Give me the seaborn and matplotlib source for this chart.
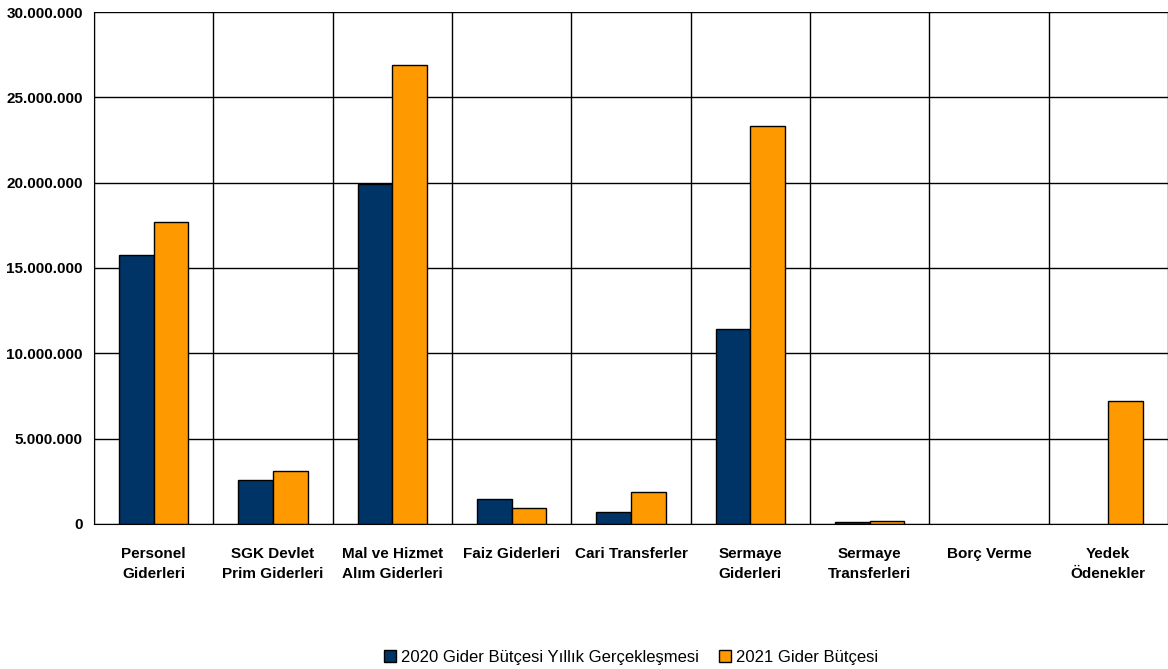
import numpy as np
import pandas as pd
import matplotlib
matplotlib.use("Agg")
import matplotlib.pyplot as plt
import seaborn as sns
from matplotlib.ticker import FuncFormatter, FixedLocator

# data
kalemler = ["Personel\nGiderleri", "SGK Devlet\nPrim Giderleri", "Mal ve Hizmet\nAlım Giderleri",
            "Faiz Giderleri", "Cari Transferler", "Sermaye\nGiderleri",
            "Sermaye\nTransferleri", "Borç Verme", "Yedek\nÖdenekler"]
seri_2020 = [15780000, 2580000, 19900000, 1450000, 700000, 11420000, 100000, 0, 0]
seri_2021 = [17700000, 3100000, 26900000, 950000, 1850000, 23300000, 180000, 0, 7200000]
seri_adlari = ["2020 Gider Bütçesi Yıllık Gerçekleşmesi", "2021 Gider Bütçesi"]
renkler = ["#003366", "#FF9900"]

sns.set_style("white")
plt.rcParams['font.family'] = ['Liberation Sans', 'DejaVu Sans']
plt.rcParams['text.color'] = 'black'
plt.rcParams['xtick.color'] = 'black'
plt.rcParams['ytick.color'] = 'black'

df = pd.DataFrame({
    "kalem": kalemler * 2,
    "tutar": seri_2020 + seri_2021,
    "seri": [seri_adlari[0]] * len(kalemler) + [seri_adlari[1]] * len(kalemler),
})

fig = plt.figure(figsize=(11.68, 6.69), dpi=100)
ax = fig.add_axes([0.0805, 0.217, 0.9195, 0.765])

sns.barplot(data=df, x="kalem", y="tutar", hue="seri", palette=renkler, saturation=1,
            edgecolor="black", linewidth=1.0, width=0.58, ax=ax, legend=False)

# no outline for empty bars
for p in ax.patches:
    if p.get_height() == 0:
        p.set_linewidth(0)

ax.set_xlim(-0.5, len(kalemler) - 0.5)
ax.set_ylim(0, 30000000)
ax.set_yticks(np.arange(0, 30000001, 5000000))
ax.yaxis.set_major_formatter(FuncFormatter(lambda v, p: f"{int(v):,}".replace(",", ".")))
ax.set_xlabel("")
ax.set_ylabel("")

# vertical separators between categories
ax.xaxis.set_minor_locator(FixedLocator(np.arange(-0.5, len(kalemler), 1.0)))
ax.grid(True, axis="y", which="major", color="black", linewidth=1.0)
ax.grid(True, axis="x", which="minor", color="black", linewidth=1.0)
ax.set_axisbelow(True)
ax.tick_params(axis="x", which="major", length=0, pad=17)
ax.tick_params(axis="x", which="minor", length=6, width=1.0, color="black", direction="out")
ax.tick_params(axis="y", length=5, width=1.0, color="black", direction="out", pad=3)

for lab in ax.get_xticklabels():
    lab.set_fontweight("bold")
    lab.set_fontsize(11)
    lab.set_linespacing(1.55)
    lab.set_verticalalignment("top")
for lab in ax.get_yticklabels():
    lab.set_fontweight("bold")
    lab.set_fontsize(11)

for s in ["top", "right"]:
    ax.spines[s].set_visible(False)
ax.spines["left"].set_color("black")
ax.spines["bottom"].set_color("black")

handles = [plt.Rectangle((0, 0), 1, 1, facecolor=c, edgecolor="black", linewidth=1.0) for c in renkler]
ax.legend(handles, seri_adlari, loc="lower center", bbox_to_anchor=(0.5, -0.305), ncol=2,
          frameon=False, prop={"size": 12}, handlelength=0.75, handleheight=0.75,
          handletextpad=0.3, columnspacing=1.2)

fig.savefig("out.png", dpi=100)
